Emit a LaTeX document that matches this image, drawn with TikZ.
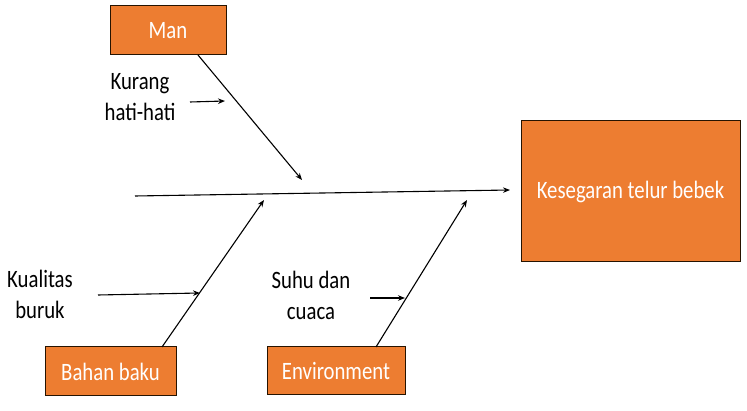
\documentclass[tikz,border=0pt]{standalone}
\usepackage{fontspec}
\setmainfont{Carlito}[FakeStretch=0.83]
\usetikzlibrary{arrows.meta}
\definecolor{boxorange}{HTML}{ED7D31}
\tikzset{
  catbox/.style={draw=black!85!orange, line width=1pt, fill=boxorange, text=white,
    inner sep=0pt, font=\fontsize{25}{29}\selectfont},
  bone/.style={line width=1.1pt, -{Stealth[length=7pt,width=5.5pt]}},
  cause/.style={align=center, inner sep=0pt, font=\fontsize{25}{31}\selectfont}
}
\begin{document}
\begin{tikzpicture}[x=1pt,y=-1pt]
\useasboundingbox (0,0) rectangle (747,411);
% boxes
\node[catbox, minimum width=116pt, minimum height=49pt] (man) at (168,30.5) {Man};
\node[catbox, minimum width=219pt, minimum height=141pt] (kes) at (630.5,191.5) {Kesegaran telur bebek};
\node[catbox, minimum width=131pt, minimum height=49pt] (bahan) at (110.5,371.5) {Bahan baku};
\node[catbox, minimum width=138pt, minimum height=48pt] (env) at (336,371) {Environment};
% cause labels
\node[cause] (kurang) at (140,97) {Kurang\\hati-hati};
\node[cause] (kualitas) at (40,294) {Kualitas\\buruk};
\node[cause] (suhu) at (311,295) {Suhu dan\\cuaca};
% coordinates
\coordinate (spineA) at (135,196);
\coordinate (spineB) at (510,190);
\coordinate (manA) at (198,55);
\coordinate (manB) at (302,180);
\coordinate (bahA) at (162,347);
\coordinate (bahB) at (264,200);
\coordinate (envA) at (376,347);
\coordinate (envB) at (467,200);
\coordinate (kurA) at (190,102);
\coordinate (kurB) at (225,101);
\coordinate (kuaA) at (98,295);
\coordinate (kuaB) at (200,293);
\coordinate (suhA) at (370,298);
\coordinate (suhB) at (405,298);
% connectors
\draw[bone] (spineA) -- (spineB);
\draw[bone] (manA) -- (manB);
\draw[bone] (bahA) -- (bahB);
\draw[bone] (envA) -- (envB);
\draw[bone] (kurA) -- (kurB);
\draw[bone] (kuaA) -- (kuaB);
\draw[bone] (suhA) -- (suhB);
\end{tikzpicture}
\end{document}
